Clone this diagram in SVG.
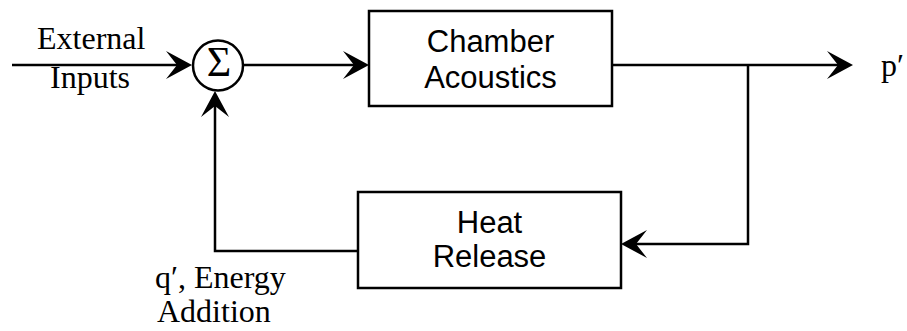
<svg xmlns="http://www.w3.org/2000/svg" width="907" height="331" viewBox="0 0 907 331">
<defs>
<style>
.box{fill:#fff;stroke:#000;stroke-width:2.5}
.ln{fill:none;stroke:#000;stroke-width:2.5}
.sans{font-family:"Liberation Sans",Arial,sans-serif;font-size:31px;fill:#000;text-anchor:middle}
.serif{font-family:"Liberation Serif","Times New Roman",serif;font-size:32px;fill:#000}
</style>
<marker id="arr" markerWidth="28" markerHeight="30" viewBox="0 -15 28 30" refX="11" refY="0" orient="auto" markerUnits="userSpaceOnUse">
<path d="M26,0 L0,-14 L11,0 L0,14 Z" fill="#000"/>
</marker>
</defs>
<rect width="907" height="331" fill="#fff"/>
<g id="connectors">
<line class="ln" x1="12" y1="65" x2="177" y2="65" marker-end="url(#arr)"/>
<line class="ln" x1="244" y1="65" x2="354" y2="65" marker-end="url(#arr)"/>
<line class="ln" x1="612" y1="65" x2="838" y2="65" marker-end="url(#arr)"/>
<path class="ln" d="M748,65 V244 H636" marker-end="url(#arr)"/>
<path class="ln" d="M358,251 H215 V106" marker-end="url(#arr)"/>
</g>
<g id="sum">
<circle cx="218" cy="65.5" r="25" class="box"/>
<text x="219" y="76" class="serif" style="font-size:42px;text-anchor:middle">Σ</text>
</g>
<g id="chamber">
<rect x="369" y="11" width="243" height="95" class="box"/>
<text x="490.5" y="52" class="sans">Chamber</text>
<text x="490.5" y="88" class="sans">Acoustics</text>
</g>
<g id="heat">
<rect x="358" y="192" width="263" height="96" class="box"/>
<text x="489.5" y="233" class="sans">Heat</text>
<text x="489.5" y="267" class="sans">Release</text>
</g>
<g id="labels">
<text x="37" y="49" class="serif">External</text>
<text x="50" y="88" class="serif">Inputs</text>
<text x="881" y="76" class="serif">p′</text>
<text x="155" y="288" class="serif">q′, Energy</text>
<text x="157" y="322" class="serif">Addition</text>
</g>
</svg>
